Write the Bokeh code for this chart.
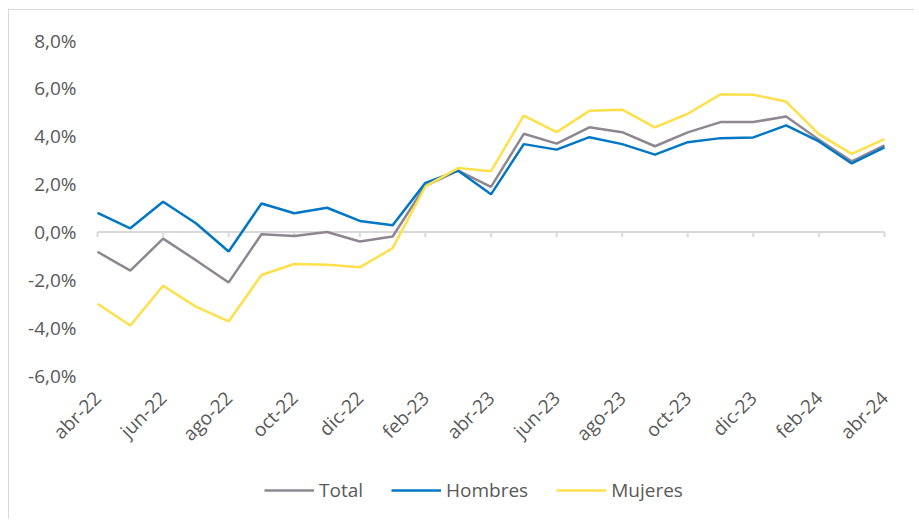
import math
from bokeh.plotting import figure
from bokeh.models import FixedTicker, Legend, LegendItem
from bokeh.embed import file_html
from bokeh.resources import INLINE

months = ["abr-22", "may-22", "jun-22", "jul-22", "ago-22", "sep-22", "oct-22", "nov-22",
          "dic-22", "ene-23", "feb-23", "mar-23", "abr-23", "may-23", "jun-23", "jul-23",
          "ago-23", "sep-23", "oct-23", "nov-23", "dic-23", "ene-24", "feb-24", "mar-24", "abr-24"]

total = [-0.83, -1.62, -0.28, -1.18, -2.11, -0.10, -0.17, 0.00, -0.40, -0.19, 1.93, 2.56, 1.88,
         4.10, 3.69, 4.37, 4.17, 3.58, 4.16, 4.59, 4.59, 4.82, 3.85, 2.95, 3.62]
hombres = [0.80, 0.15, 1.26, 0.36, -0.82, 1.19, 0.78, 1.01, 0.46, 0.28, 2.05, 2.56, 1.57,
           3.67, 3.44, 3.96, 3.67, 3.23, 3.75, 3.92, 3.95, 4.45, 3.78, 2.86, 3.53]
mujeres = [-3.00, -3.91, -2.25, -3.12, -3.74, -1.80, -1.34, -1.37, -1.48, -0.68, 1.90, 2.67, 2.54,
           4.86, 4.17, 5.06, 5.11, 4.37, 4.94, 5.75, 5.73, 5.45, 4.09, 3.26, 3.88]

y_ticks = [-6, -4, -2, 0, 2, 4, 6, 8]
y_tick_labels = ["-6,0%", "-4,0%", "-2,0%", "0,0%", "2,0%", "4,0%", "6,0%", "8,0%"]

FONT = "Open Sans"
TXT = "#595959"
GRID = "#d9d9d9"

x = list(range(len(months)))
x_ticks = x[::2]

# ---- layout in page pixels (figure offset by a margin, with a 1px top/left border) ----
OFF_X, OFF_Y = 9, 10                            # page position of the figure content
W, H = 906, 510
FR_L, FR_R, FR_T, FR_B = 18, 913, 20, 515       # frame edges on the page
PX_X0, PX_X1 = 97, 884                          # page x of first / last month
PX_YHI, PX_YLO = 40, 375                        # page y of 8% / -6%
LEG_X, LEG_BOTTOM_GAP = 264, 12

x_first, x_last = x[0], x[-1]
y_lo, y_hi = y_ticks[0], y_ticks[-1]
ux = (x_last - x_first) / (PX_X1 - PX_X0)
uy = (y_hi - y_lo) / (PX_YLO - PX_YHI)
x_rng = (x_first - (PX_X0 - FR_L) * ux, x_last + (FR_R - PX_X1) * ux)
y_rng = (y_lo - (FR_B - PX_YLO) * uy, y_hi + (PX_YHI - FR_T) * uy)

p = figure(width=W, height=H, x_range=x_rng, y_range=y_rng,
           output_backend="svg", toolbar_location=None)
p.min_border_left = FR_L - OFF_X
p.min_border_right = W - (FR_R - OFF_X)
p.min_border_top = FR_T - OFF_Y
p.min_border_bottom = H - (FR_B - OFF_Y)
p.outline_line_color = None
p.xgrid.visible = False
p.ygrid.visible = False
p.styles = {"margin-left": f"{OFF_X - 1}px", "margin-top": f"{OFF_Y - 1}px",
            "border-top": "1px solid #d9d9d9", "border-left": "1px solid #d9d9d9"}

# y axis (labels left of the first month)
p.yaxis.fixed_location = x_first
p.yaxis.ticker = FixedTicker(ticks=y_ticks)
p.yaxis.major_label_overrides = {t: l for t, l in zip(y_ticks, y_tick_labels)}
p.yaxis.axis_line_color = None
p.yaxis.major_tick_line_color = None
p.yaxis.minor_tick_line_color = None
p.yaxis.major_tick_out = 0
p.yaxis.major_tick_in = 0
p.yaxis.major_label_standoff = 21
p.yaxis.major_label_text_font = FONT
p.yaxis.major_label_text_font_size = "19px"
p.yaxis.major_label_text_color = TXT

# x axis (labels low, below the -6% level)
p.xaxis.fixed_location = y_lo
p.xaxis.ticker = FixedTicker(ticks=x_ticks)
p.xaxis.major_label_overrides = {i: months[i] for i in x_ticks}
p.xaxis.axis_line_color = None
p.xaxis.major_tick_line_color = None
p.xaxis.minor_tick_line_color = None
p.xaxis.major_tick_out = 0
p.xaxis.major_tick_in = 0
p.xaxis.major_label_orientation = math.pi / 4
p.xaxis.major_label_standoff = 19
p.xaxis.major_label_text_font = FONT
p.xaxis.major_label_text_font_size = "19px"
p.xaxis.major_label_text_color = TXT

# zero line with tick marks
p.segment(x0=[x_first], y0=[0], x1=[x_last], y1=[0], line_color=GRID, line_width=2)
p.segment(x0=x_ticks, y0=[0] * len(x_ticks), x1=x_ticks, y1=[-5 * uy] * len(x_ticks),
          line_color=GRID, line_width=2)

r_t = p.line(x, total, line_color="#8E8690", line_width=2.5)
r_h = p.line(x, hombres, line_color="#0077C4", line_width=2.5)
r_m = p.line(x, mujeres, line_color="#FFE04A", line_width=2.5)

legend = Legend(items=[LegendItem(label="Total", renderers=[r_t]),
                       LegendItem(label="Hombres", renderers=[r_h]),
                       LegendItem(label="Mujeres", renderers=[r_m])],
                location=(LEG_X - FR_L, LEG_BOTTOM_GAP), orientation="horizontal",
                glyph_width=50, label_standoff=5, spacing=28, padding=0, margin=0,
                border_line_color=None, background_fill_alpha=0,
                label_text_font=FONT, label_text_font_size="19px", label_text_color=TXT)
p.add_layout(legend)

open("out.html", "w").write(file_html(p, INLINE))
